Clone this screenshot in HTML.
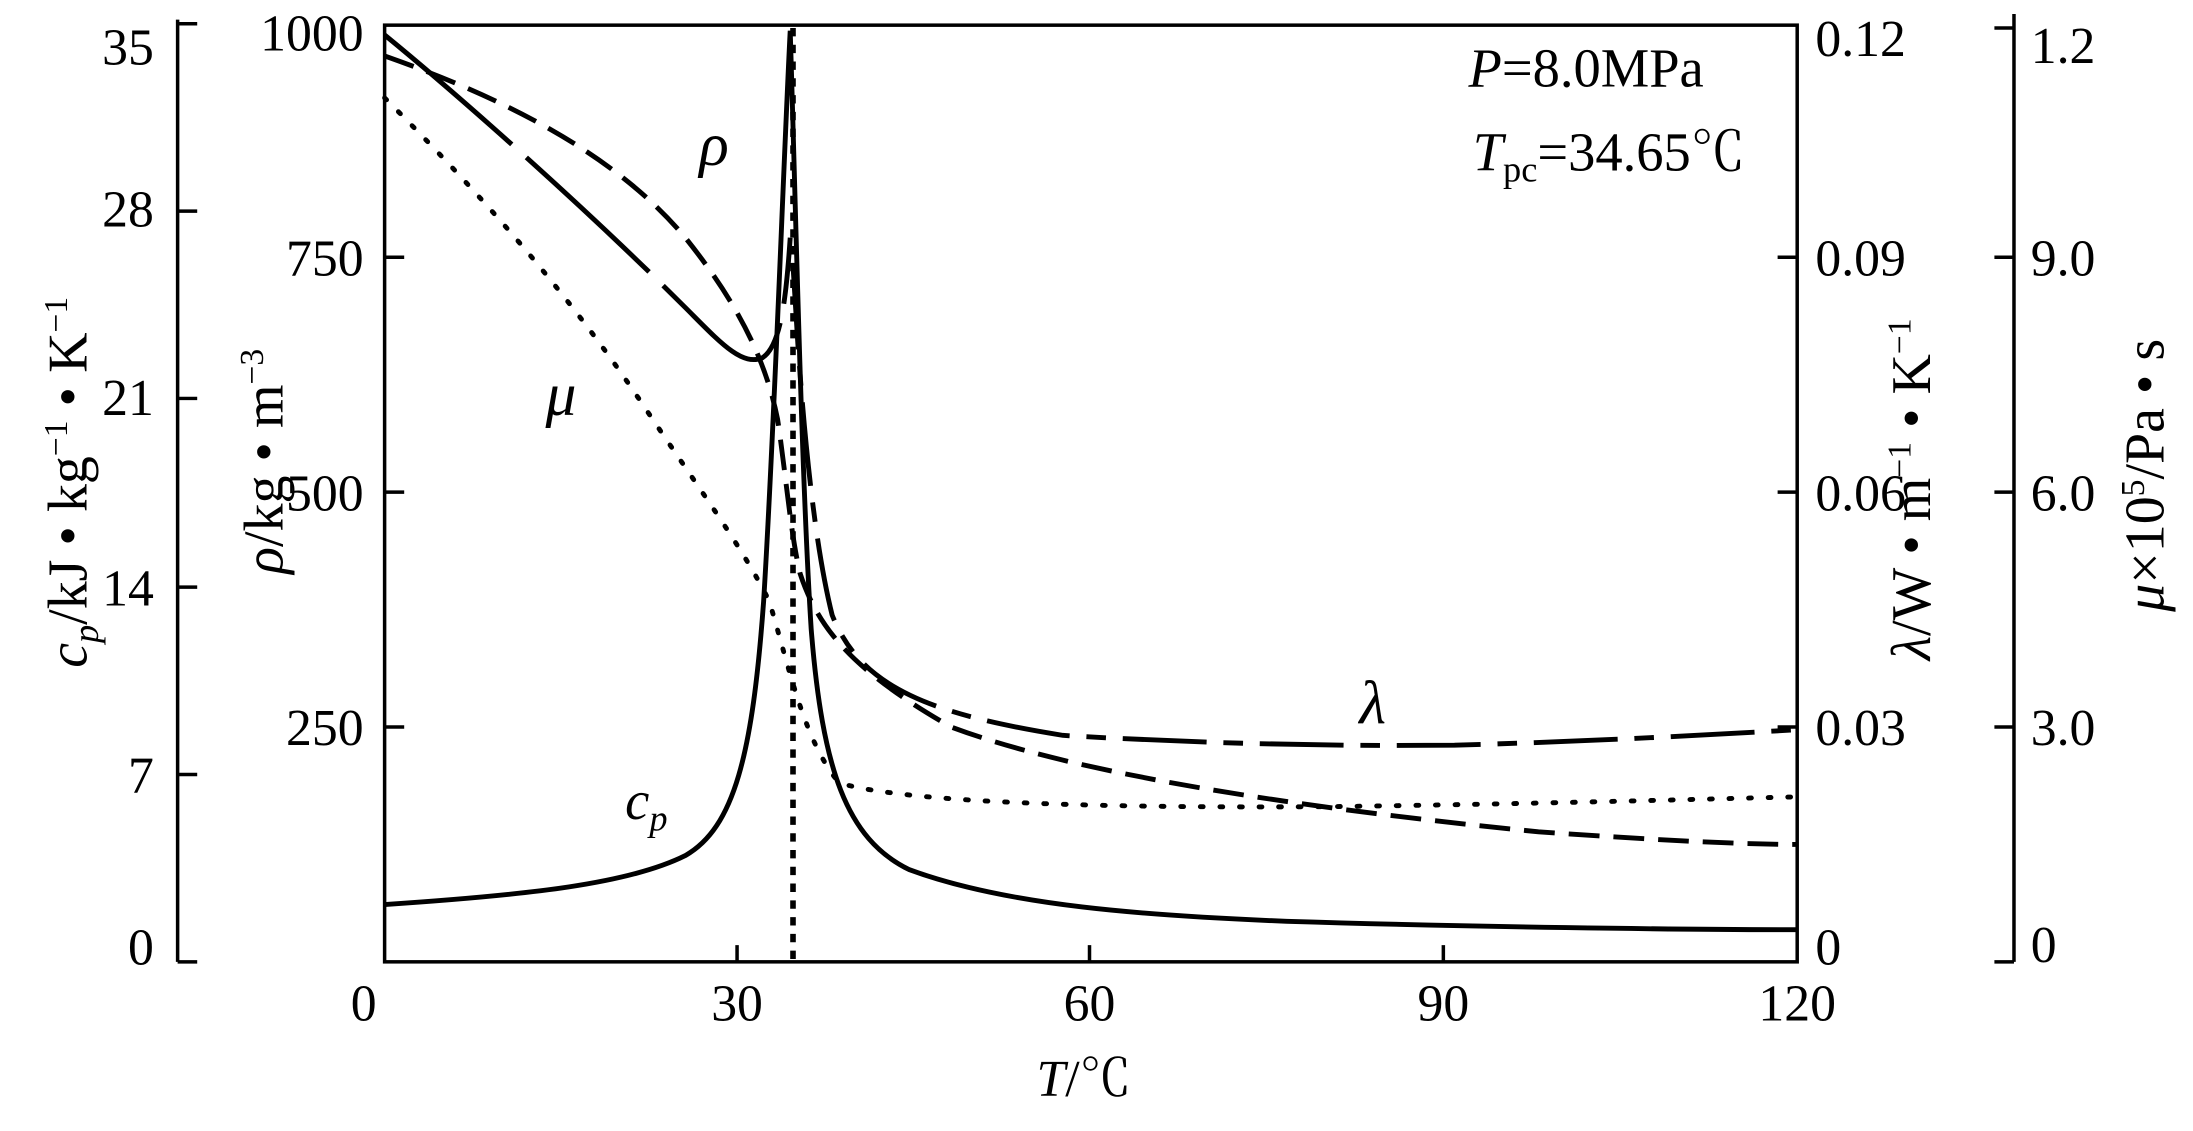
<!DOCTYPE html>
<html><head><meta charset="utf-8"><style>
html,body{margin:0;padding:0;background:#fff;}
svg{display:block;}
text{font-family:"Liberation Serif","Noto Serif CJK SC",serif;fill:#000;}
</style></head><body>
<svg width="2193" height="1131" viewBox="0 0 1568 809" preserveAspectRatio="none" xmlns="http://www.w3.org/2000/svg">
<g stroke="#000" fill="none" stroke-width="2.5">
<rect x="275" y="18" width="1010" height="670"/>
<line x1="127" y1="14" x2="127" y2="688"/>
<line x1="1440" y1="10" x2="1440" y2="688"/>
<path d="M127 17h14M127 151h14M127 285h14M127 420h14M127 554h14M127 688h14"/>
<path d="M275 184h14M275 352h14M275 520h14"/>
<path d="M1285 184h-14M1285 352h-14M1285 520h-14"/>
<path d="M1440 20h-14M1440 184h-14M1440 352h-14M1440 520h-14M1440 688h-14"/>
<path d="M527 688v-12M779 688v-12M1032 688v-12"/>
</g>
<g font-size="37">
<text x="260" y="36" text-anchor="end">1000</text>
<text x="260" y="197" text-anchor="end">750</text>
<text x="260" y="365" text-anchor="end">500</text>
<text x="260" y="533" text-anchor="end">250</text>
<text x="110" y="46" text-anchor="end">35</text>
<text x="110" y="162" text-anchor="end">28</text>
<text x="110" y="297" text-anchor="end">21</text>
<text x="110" y="433" text-anchor="end">14</text>
<text x="110" y="567" text-anchor="end">7</text>
<text x="110" y="690" text-anchor="end">0</text>
<text x="1298" y="40">0.12</text>
<text x="1298" y="197">0.09</text>
<text x="1298" y="365">0.06</text>
<text x="1298" y="533">0.03</text>
<text x="1298" y="690">0</text>
<text x="1452" y="45">1.2</text>
<text x="1452" y="197">9.0</text>
<text x="1452" y="365">6.0</text>
<text x="1452" y="533">3.0</text>
<text x="1452" y="688">0</text>
<text x="260" y="730" text-anchor="middle">0</text>
<text x="527" y="730" text-anchor="middle">30</text>
<text x="779" y="730" text-anchor="middle">60</text>
<text x="1032" y="730" text-anchor="middle">90</text>
<text x="1285" y="730" text-anchor="middle">120</text>
<text x="775" y="784" text-anchor="middle"><tspan font-style="italic">T</tspan>/℃</text>
<text transform="translate(62,345) rotate(-90)" text-anchor="middle" font-size="40"><tspan font-style="italic">c</tspan><tspan font-style="italic" font-size="26" dy="8">p</tspan><tspan dy="-8">/kJ • kg</tspan><tspan font-size="24" dy="-14">−1</tspan><tspan dy="14"> • K</tspan><tspan font-size="24" dy="-14">−1</tspan></text>
<text transform="translate(202,330) rotate(-90)" text-anchor="middle" font-size="40"><tspan font-style="italic">ρ</tspan>/kg • m<tspan font-size="24" dy="-14">−3</tspan></text>
<text transform="translate(1380,350) rotate(-90)" text-anchor="middle" font-size="40"><tspan font-style="italic">λ</tspan>/W • m<tspan font-size="24" dy="-14">−1</tspan><tspan dy="14"> • K</tspan><tspan font-size="24" dy="-14">−1</tspan></text>
<text transform="translate(1547,340) rotate(-90)" text-anchor="middle" font-size="40"><tspan font-style="italic">μ</tspan>×10<tspan font-size="24" dy="-14">5</tspan><tspan dy="14">/Pa • s</tspan></text>
<text x="1050" y="62" font-size="39"><tspan font-style="italic">P</tspan>=8.0MPa</text>
<text x="1053" y="122" font-size="39"><tspan font-style="italic">T</tspan><tspan font-size="26" dy="8">pc</tspan><tspan dy="-8">=34.65℃</tspan></text>
<text x="500" y="118" font-style="italic" font-size="44">ρ</text>
<text x="390" y="297" font-style="italic" font-size="44">μ</text>
<text x="972" y="517" font-style="italic" font-size="44">λ</text>
<text x="447" y="586" font-style="italic" font-size="39">c<tspan font-size="26" dy="8">p</tspan></text>
</g>
<g fill="none" stroke="#000" stroke-width="3.5">
<path d="M275 647 C380 640 450 632 490 612 C525 592 538 540 546 430 C554 300 560 120 565 22 C569 150 573 340 580 450 C588 550 605 600 650 622 C720 648 820 655 920 659 C1050 663 1200 665 1285 665"/>
<path d="M275 25 C330 70 420 150 490 220 C515 245 530 262 545 256 C558 248 562 215 565 170" stroke-dasharray="120 14"/>
<path d="M567 190 C572 280 580 380 595 440 C615 490 660 510 760 526 C860 532 960 534 1040 533 C1150 530 1230 525 1285 522" stroke-dasharray="60 12 14 12"/>
<path d="M275 40 C360 70 440 110 490 170 C530 220 548 260 556 300 C562 340 565 380 572 410 C585 450 610 480 680 520 C760 550 900 575 1100 595 C1200 602 1250 604 1285 604" stroke-dasharray="22 10"/>
<path d="M275 70 C330 125 400 200 460 290 C500 350 530 390 550 430 C565 480 575 530 600 560 C650 575 800 578 950 577 C1100 575 1200 572 1285 570" stroke-dasharray="2 12" stroke-linecap="round"/>
<path d="M567 20 V688" stroke-dasharray="6 6" stroke-width="4"/>
</g>
</svg>
</body></html>
